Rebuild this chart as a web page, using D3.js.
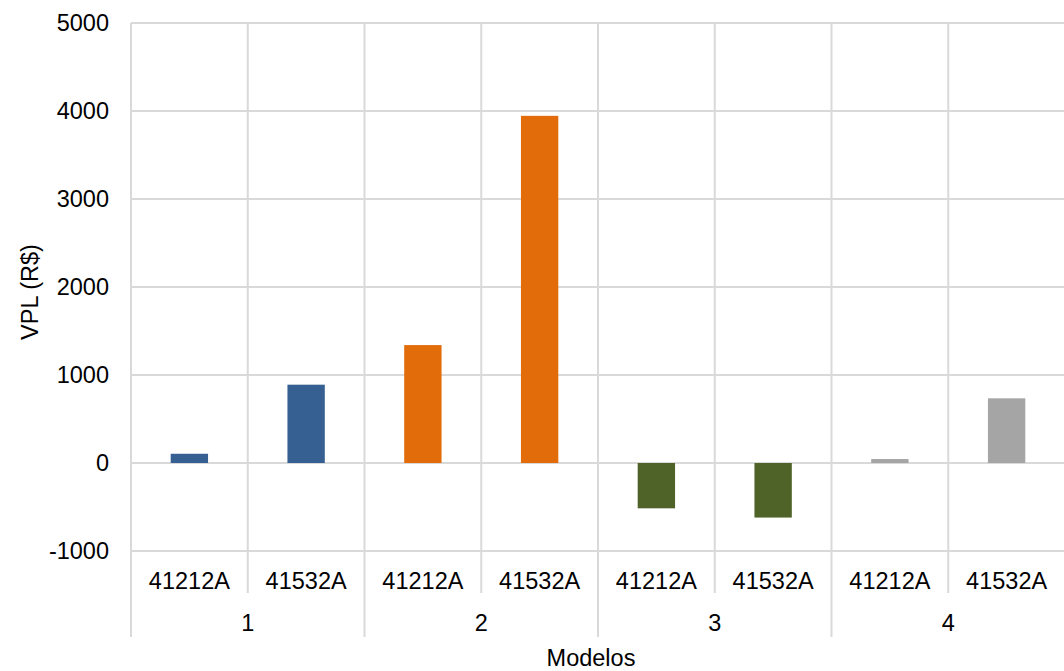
<!DOCTYPE html>
<html>
<head>
<meta charset="utf-8">
<script src="https://cdn.jsdelivr.net/npm/d3@7/dist/d3.min.js"></script>
<style>
  html, body { margin: 0; padding: 0; background: #fff; }
  svg { display: block; font-family: "Liberation Sans", Arial, sans-serif; }
</style>
</head>
<body>
<svg id="chart" width="1064" height="671"></svg>
<script>
// Modelos (groups) and the two variants within each
const groups = ["1", "2", "3", "4"];
const variants = ["41212A", "41532A"];
// VPL (R$) per group, in variant order
const vplModelo1 = [105, 890];
const vplModelo2 = [1340, 3945];
const vplModelo3 = [-515, -620];
const vplModelo4 = [45, 735];
const groupColors = ["#366092", "#e36c0a", "#4f6228", "#a5a5a5"];
const yTicks = [-1000, 0, 1000, 2000, 3000, 4000, 5000];

const seriesByGroup = [vplModelo1, vplModelo2, vplModelo3, vplModelo4];
const rows = [];
groups.forEach((g, gi) => {
  variants.forEach((v, vi) => {
    rows.push({ key: g + "|" + v, group: g, gi, variant: v, value: seriesByGroup[gi][vi] });
  });
});

const svg = d3.select("#chart");
const m = { left: 131, right: 0, top: 23, bottom: 120 };
const W = 1064, H = 671;
const plotBottom = 551;

const x = d3.scaleBand()
  .domain(rows.map(d => d.key))
  .range([m.left, W + 1])
  .paddingInner(0)
  .paddingOuter(0);

const y = d3.scaleLinear()
  .domain([-1000, 5000])
  .range([plotBottom, m.top]);

const grid = "#d9d9d9";
const font = 23.5;

// Horizontal gridlines
svg.append("g")
  .selectAll("line")
  .data(yTicks)
  .join("line")
  .attr("x1", m.left).attr("x2", W)
  .attr("y1", d => y(d)).attr("y2", d => y(d))
  .attr("stroke", grid).attr("stroke-width", 2);

// Vertical dividers between categories; group boundaries run lower
const boundaries = rows.map((d, i) => ({ xPos: x(d.key), isGroup: i % variants.length === 0 }));
svg.append("g")
  .selectAll("line")
  .data(boundaries)
  .join("line")
  .attr("x1", d => d.xPos).attr("x2", d => d.xPos)
  .attr("y1", m.top)
  .attr("y2", d => d.isGroup ? 637 : 593)
  .attr("stroke", grid).attr("stroke-width", 2);

// Bars
const barW = x.bandwidth() * 0.32;
svg.append("g")
  .selectAll("rect")
  .data(rows)
  .join("rect")
  .attr("x", d => x(d.key) + (x.bandwidth() - barW) / 2)
  .attr("width", barW)
  .attr("y", d => y(Math.max(0, d.value)))
  .attr("height", d => Math.abs(y(d.value) - y(0)))
  .attr("fill", d => groupColors[d.gi]);

// Y tick labels
svg.append("g")
  .selectAll("text")
  .data(yTicks)
  .join("text")
  .attr("x", 109)
  .attr("y", d => y(d))
  .attr("dy", "0.36em")
  .attr("text-anchor", "end")
  .attr("font-size", font)
  .attr("fill", "#000")
  .text(d => d);

// Variant labels
svg.append("g")
  .selectAll("text")
  .data(rows)
  .join("text")
  .attr("x", d => x(d.key) + x.bandwidth() / 2)
  .attr("y", 588.5)
  .attr("text-anchor", "middle")
  .attr("font-size", font)
  .attr("fill", "#000")
  .text(d => d.variant);

// Group labels
svg.append("g")
  .selectAll("text")
  .data(groups)
  .join("text")
  .attr("x", (g, gi) => x(rows[gi * 2].key) + x.bandwidth())
  .attr("y", 630.5)
  .attr("text-anchor", "middle")
  .attr("font-size", font)
  .attr("fill", "#000")
  .text(g => g);

// Axis titles
svg.append("text")
  .attr("x", 591)
  .attr("y", 666)
  .attr("text-anchor", "middle")
  .attr("font-size", font)
  .attr("fill", "#000")
  .text("Modelos");

svg.append("text")
  .attr("transform", "translate(38,292) rotate(-90)")
  .attr("text-anchor", "middle")
  .attr("font-size", font)
  .attr("fill", "#000")
  .text("VPL (R$)");
</script>
</body>
</html>
